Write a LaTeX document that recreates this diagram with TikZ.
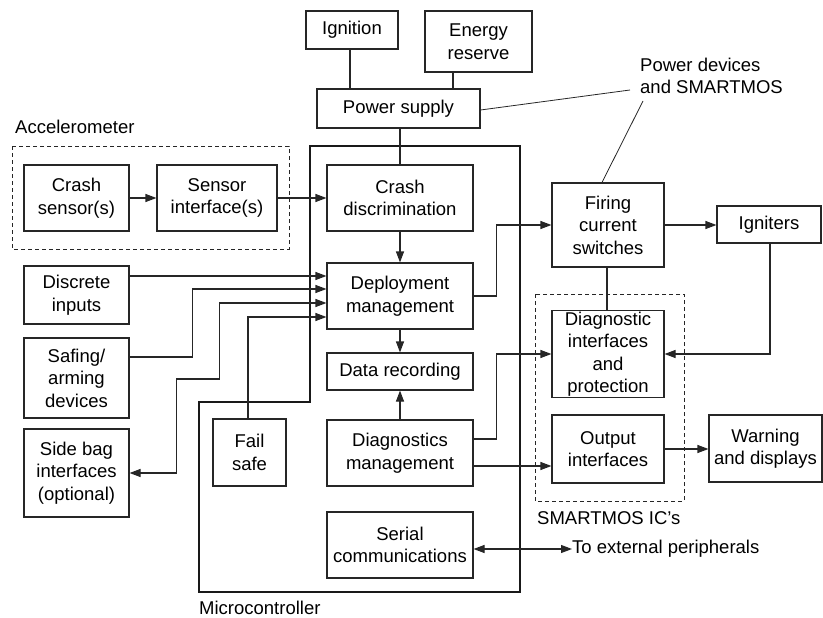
\documentclass[tikz,border=0pt]{standalone}
\usepackage{fontspec}
\setmainfont{Liberation Sans}
\usetikzlibrary{arrows.meta,calc}
\begin{document}
\begin{tikzpicture}[x=1pt,y=-1pt,
  font=\fontsize{18.5}{22.5}\selectfont,
  box/.style={draw=black!85,line width=1.1pt,align=center,inner sep=1pt},
  conn/.style={draw=black!85,line width=1.1pt},
  arr/.style={conn,-{Triangle[length=11pt,width=8pt]}},
  darr/.style={conn,{Triangle[length=11pt,width=8pt]}-{Triangle[length=11pt,width=8pt]}},
  grp/.style={draw=black!85,line width=0.9pt,dash pattern=on 4pt off 3pt},
  lbl/.style={anchor=west,inner sep=0pt,align=left}]
\useasboundingbox (0,0) rectangle (823,618);
% groups
\draw[grp] (12,146) rectangle (289,249);
\draw[grp] (535,294) rectangle (684,501);
\draw[draw=black!90,line width=2.8pt] (310,146) -- (520,146) -- (520,592) -- (199,592) -- (199,402) -- (310,402) -- cycle;
% labels
\node[lbl] (accl) at (15,127) {Accelerometer};
\node[lbl] (mcl) at (199,608) {Microcontroller};
\node[lbl] (smic) at (537,518) {SMARTMOS IC’s};
\node[lbl] (ext) at (572,549) {To external peripherals};
\node[lbl] (pwr) at (640,76) {Power devices\\and SMARTMOS};
% boxes
\node[box,minimum width=92,minimum height=38] (ign) at (352,30) {Ignition};
\node[box,minimum width=107,minimum height=61] (energy) at (478.5,41.5) {Energy\\reserve};
\node[box,minimum width=163,minimum height=39] (ps) at (398.5,108.5) {Power supply};
\node[box,minimum width=105,minimum height=66] (crashs) at (76.5,198) {Crash\\sensor(s)};
\node[box,minimum width=120,minimum height=66] (sensif) at (217,198) {Sensor\\interface(s)};
\node[box,minimum width=146,minimum height=66] (crashd) at (400,198) {Crash\\discrimination};
\node[box,minimum width=146,minimum height=66] (deploy) at (400,296) {Deployment\\management};
\node[box,minimum width=146,minimum height=37] (datarec) at (400,371.5) {Data recording};
\node[box,minimum width=146,minimum height=66] (diagm) at (400,453) {Diagnostics\\management};
\node[box,minimum width=146,minimum height=66] (serial) at (400,545) {Serial\\communications};
\node[box,minimum width=73,minimum height=67] (fail) at (249.5,452.5) {Fail\\safe};
\node[box,minimum width=105,minimum height=58] (discrete) at (76.5,295) {Discrete\\inputs};
\node[box,minimum width=105,minimum height=80] (safing) at (76.5,378) {Safing/\\arming\\devices};
\node[box,minimum width=105,minimum height=88] (sidebag) at (76.5,473) {Side bag\\interfaces\\(optional)};
\node[box,minimum width=112,minimum height=84] (firing) at (608,225) {Firing\\current\\switches};
\node[box,minimum width=104,minimum height=37] (igniters) at (769,224.5) {Igniters};
\node[box,minimum width=112,minimum height=84] (diagif) at (608,354) {Diagnostic\\interfaces\\and\\protection};
\node[box,minimum width=112,minimum height=68] (outif) at (608,449) {Output\\interfaces};
\node[box,minimum width=113,minimum height=67] (warn) at (765.5,448.5) {Warning\\and displays};
% power connections
\draw[conn] ([xshift=-2pt]ign.south) -- ([xshift=-2pt]ign.south |- ps.north);
\draw[conn] ([xshift=-25.5pt]energy.south) -- ([xshift=-25.5pt]energy.south |- ps.north);
\draw[conn] (crashd.north |- ps.south) -- (crashd.north);
\coordinate (p1) at (630,90);
\coordinate (p2) at (643,101);
\draw[conn,line width=0.8pt] ([yshift=-1.5pt]ps.east) -- (p1);
\draw[conn,line width=0.8pt] (p2) -- ([xshift=-6pt]firing.north);
% accelerometer chain
\draw[arr] (crashs.east) -- (sensif.west);
\draw[arr] (sensif.east) -- (crashd.west);
% microcontroller internal
\draw[arr] (crashd.south) -- (deploy.north);
\draw[arr] (deploy.south) -- (datarec.north);
\draw[arr] (diagm.north) -- (datarec.south);
% inputs to deployment
\draw[arr] ([yshift=20pt]deploy.west -| discrete.east) -- ([yshift=20pt]deploy.west);
\draw[arr] ([yshift=21pt]safing.east) -- ++(63,0) |- ([yshift=7pt]deploy.west);
\draw[darr] (sidebag.east) -- ++(47,0) -- ++(0,-94) -- ++(43,0) |- ([yshift=-7pt]deploy.west);
\draw[arr] ([xshift=-1.5pt]fail.north) |- ([yshift=-21pt]deploy.west);
% outputs
\draw[arr] (deploy.east) -- ++(23,0) |- (firing.west);
\draw[arr] (firing.east) -- (firing.east -| igniters.west);
\draw[conn] ([xshift=-1pt]firing.south) -- ([xshift=-1pt]diagif.north);
\draw[arr] ([xshift=1pt]igniters.south) |- (diagif.east);
\draw[arr] ([yshift=14pt]diagm.east) -- ++(23,0) |- (diagif.west);
\draw[arr] ([yshift=-13pt]diagm.east) -- ([yshift=-13pt]diagm.east -| outif.west);
\draw[arr] (outif.east) -- (outif.east -| warn.west);
\draw[darr] ([yshift=-4pt]serial.east) -- (ext.west);
\end{tikzpicture}
\end{document}
